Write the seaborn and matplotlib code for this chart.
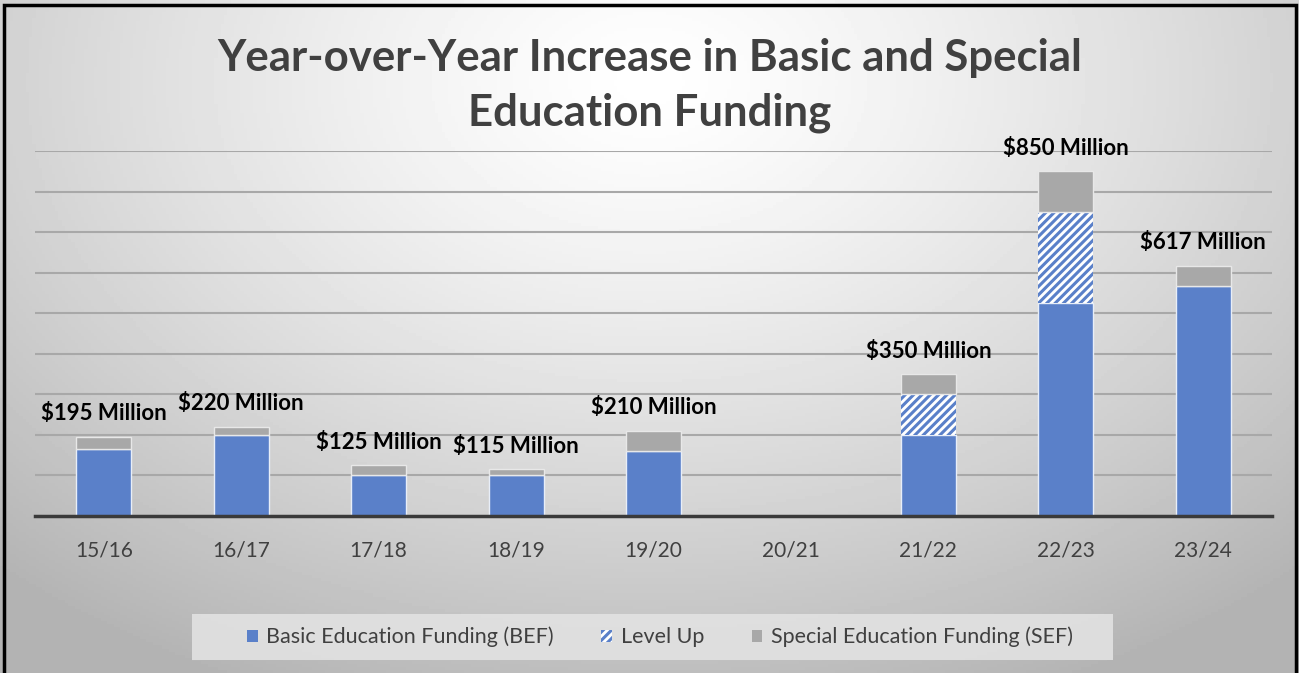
import numpy as np
import matplotlib
matplotlib.use('Agg')
import matplotlib.pyplot as plt
from matplotlib.patches import Patch, Rectangle
import seaborn as sns

# school years and funding increases ($ millions)
years = ['15/16', '16/17', '17/18', '18/19', '19/20', '20/21', '21/22', '22/23', '23/24']
bef = [165, 200, 100, 100, 160, 0, 200, 525, 567]
level_up = [0, 0, 0, 0, 0, 0, 100, 225, 0]
sef = [30, 20, 25, 15, 50, 0, 50, 100, 50]
totals = [195, 220, 125, 115, 210, None, 350, 850, 617]

blue = '#5a80c9'
gray = '#a8a8a8'
text_col = '#404040'

sns.set_style('white')
plt.rcParams['font.family'] = ['Lato', 'DejaVu Sans']
plt.rcParams['hatch.linewidth'] = 2.2

fig = plt.figure(figsize=(12.99, 6.73), dpi=100)

# radial background gradient
bg = fig.add_axes([0, 0, 1, 1], zorder=-10)
xx, yy = np.meshgrid(np.linspace(0, 1, 400), np.linspace(0, 1, 220))
r = np.sqrt(((xx - 0.5) / 0.75) ** 2 + ((yy - 0.12) / 1.0) ** 2)
shade = 1.0 - 0.30 * np.clip(r, 0, 1) ** 1.3
bg.imshow(shade, cmap='gray', vmin=0, vmax=1, extent=[0, 1, 0, 1], aspect='auto')
bg.set_axis_off()

ax = fig.add_axes([35 / 1299, 1 - 516 / 673, 1237 / 1299, 365 / 673])
ax.patch.set_alpha(0)

bottom2 = [b + l for b, l in zip(bef, level_up)]
sns.barplot(x=years, y=bef, color=blue, width=0.4, errorbar=None, ax=ax,
            edgecolor='#e8eef8', linewidth=1, saturation=1, zorder=3)
sns.barplot(x=years, y=level_up, bottom=bef, color='white', width=0.4, errorbar=None, ax=ax,
            edgecolor=blue, hatch='////', linewidth=0, saturation=1, zorder=3)
sns.barplot(x=years, y=sef, bottom=bottom2, color=gray, width=0.4, errorbar=None, ax=ax,
            edgecolor='#e8e8e8', linewidth=1, saturation=1, zorder=3)

for i, t in enumerate(totals):
    if t is None:
        continue
    ax.annotate(f'${t} Million', (i, t), xytext=(0, 9), textcoords='offset points',
                ha='center', va='bottom', fontsize=16, fontweight='bold', color='black')

ax.set_xlim(-0.5, len(years) - 0.5)
ax.set_ylim(0, 900)
ax.set_yticks(range(100, 1000, 100))
ax.yaxis.grid(True, color='#a8a8a8', linewidth=1.5, zorder=0)
ax.set_axisbelow(True)
ax.tick_params(axis='y', left=False, labelleft=False)
ax.tick_params(axis='x', bottom=False, labelsize=15, labelcolor=text_col, pad=14)
for s in ['top', 'right', 'left']:
    ax.spines[s].set_visible(False)
ax.spines['bottom'].set_color('#3a3a3a')
ax.spines['bottom'].set_linewidth(2.5)
ax.spines['bottom'].set_zorder(4)
ax.set_xlabel('')
ax.set_ylabel('')

fig.text(0.5, 1 - 58 / 673, 'Year-over-Year Increase in Basic and Special',
         ha='center', va='center', fontsize=31.5, fontweight='bold', color=text_col)
fig.text(0.5, 1 - 113 / 673, 'Education Funding',
         ha='center', va='center', fontsize=31.5, fontweight='bold', color=text_col)

# legend background panel
fig.patches.append(Rectangle((192 / 1299, 1 - 660 / 673), 921 / 1299, 46 / 673,
                             transform=fig.transFigure, facecolor='#e2e2e2',
                             edgecolor='none', alpha=0.9, zorder=1))
handles = [Patch(facecolor=blue, edgecolor='none', label='Basic Education Funding (BEF)'),
           Patch(facecolor='white', edgecolor=blue, hatch='////', linewidth=0, label='Level Up'),
           Patch(facecolor=gray, edgecolor='none', label='Special Education Funding (SEF)')]
leg = fig.legend(handles=handles, loc='center', bbox_to_anchor=(660 / 1299, 1 - 637 / 673),
                 ncol=3, frameon=False, fontsize=15.5, handlelength=0.5, handleheight=0.5,
                 handletextpad=0.4, columnspacing=2.2)
for t in leg.get_texts():
    t.set_color(text_col)

# outer frame
fig.patches.append(Rectangle((4 / 1299, -0.01), 1292 / 1299, 1.01 - 5 / 673, transform=fig.transFigure,
                             fill=False, edgecolor='black', linewidth=2.5))

fig.savefig('out.png', dpi=100)
